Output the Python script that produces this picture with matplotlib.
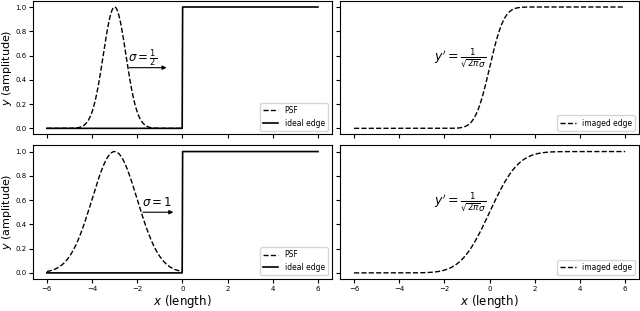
import numpy as np
import matplotlib
matplotlib.use("Agg")
import matplotlib.pyplot as plt
from math import erf

# === data ===
sigmas = [0.5, 1.0]                 # PSF widths, top row / bottom row
sigma_labels = [r'$\sigma = \frac{1}{2}$', r'$\sigma = 1$']
psf_center = -3.0
x_min, x_max = -6.0, 6.0
edge_pos = 0.0
xticks = [-6, -4, -2, 0, 2, 4, 6]
yticks = [0.0, 0.2, 0.4, 0.6, 0.8, 1.0]
slope_label = r"$y' = \frac{1}{\sqrt{2\pi}\sigma}$"
arrow_from = [-2.35, -1.75]
arrow_to = [-0.7, -0.4]

x_psf = np.linspace(x_min, edge_pos, 300)
x_all = np.linspace(x_min, x_max, 600)
edge = (x_all >= edge_pos).astype(float)

fig, axes = plt.subplots(2, 2, figsize=(6.4, 3.11), dpi=100, sharex=True, sharey=True)
fig.subplots_adjust(left=0.052, right=0.998, top=0.997, bottom=0.103,
                    wspace=0.03, hspace=0.083)

for row, s in enumerate(sigmas):
    ax = axes[row, 0]
    psf = np.exp(-(x_psf - psf_center) ** 2 / (2 * s ** 2))
    ax.plot(x_psf, psf, 'k--', lw=1, label='PSF')
    ax.plot(x_all, edge, 'k-', lw=1.2, label='ideal edge')
    ax.annotate('', xy=(arrow_to[row], 0.5), xytext=(arrow_from[row], 0.5),
                arrowprops=dict(arrowstyle='-|>', color='k', lw=0.8, mutation_scale=6,
                                shrinkA=0, shrinkB=0))
    ax.text(arrow_from[row] - 0.05, 0.58, sigma_labels[row], fontsize=8.5, va='center')
    ax.legend(loc='lower right', fontsize=5.5)
    ax.set_ylabel(r'$y$ (amplitude)', fontsize=8, labelpad=1)

    ax = axes[row, 1]
    imaged = 0.5 * (1 + np.array([erf(v / (np.sqrt(2) * s)) for v in x_all]))
    ax.plot(x_all, imaged, 'k--', lw=1, label='imaged edge')
    ax.text(-2.45, 0.58, slope_label, fontsize=9, va='center')
    ax.legend(loc='lower right', fontsize=5.5)

for ax in axes.flat:
    ax.set_xticks(xticks)
    ax.set_yticks(yticks)
    ax.tick_params(labelsize=5, length=3, pad=2)
for ax in axes[:, 1]:
    ax.tick_params(labelleft=False)
for ax in axes[1, :]:
    ax.set_xlabel(r'$x$ (length)', fontsize=8.5, labelpad=1)

fig.savefig('out.png', dpi=100)
